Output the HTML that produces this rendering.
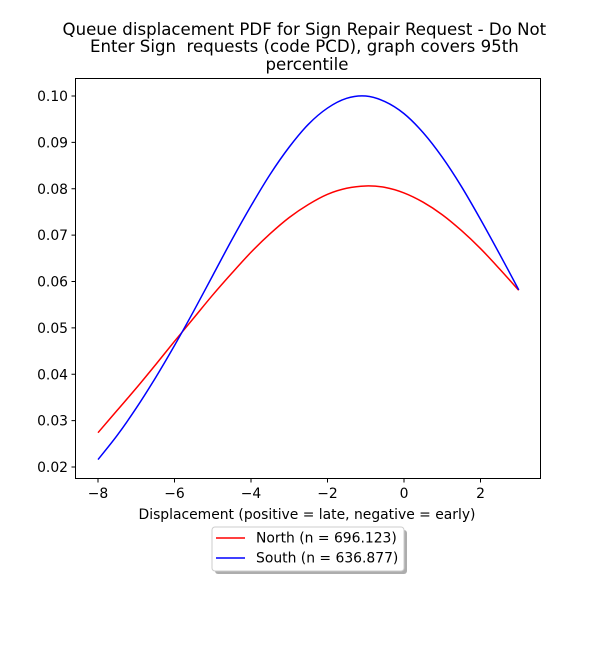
<!DOCTYPE html>
<html><head><meta charset="utf-8"><style>
body{margin:0;background:#fff;}
svg{display:block;font-family:"DejaVu Sans","Liberation Sans",sans-serif;}
</style></head><body>
<svg id="chart" width="600" height="650" viewBox="0 0 600 650">
<text x="307" y="35" font-size="16.6" text-anchor="middle">
<tspan x="307" y="35">Queue displacement PDF for Sign Repair Request - Do Not</tspan>
<tspan x="307" y="52">Enter Sign&#160; requests (code PCD), graph covers 95th</tspan>
<tspan x="307" y="70">percentile</tspan></text>
<g id="axes"></g>
<rect x="75.5" y="78.5" width="465" height="400" fill="none" stroke="#000" stroke-width="1"/>
<text x="307" y="519" font-size="13.9" text-anchor="middle">Displacement (positive = late, negative = early)</text>
<g>
<rect x="215" y="530" width="192" height="44" rx="3" fill="#999" opacity="0.8"/>
<rect x="212" y="527" width="192" height="44" rx="3" fill="#fff" stroke="#ccc"/>
<line x1="216" y1="538" x2="245" y2="538" stroke="red" stroke-width="1.5"/>
<text x="256" y="542.5" font-size="13.9">North (n = 696.123)</text>
<line x1="216" y1="558" x2="245" y2="558" stroke="blue" stroke-width="1.5"/>
<text x="256" y="562.5" font-size="13.9">South (n = 636.877)</text>
</g>
</svg>
<script>
const xValues=[-8,-7.5,-7,-6.5,-6,-5.5,-5,-4.5,-4,-3.5,-3,-2.5,-2,-1.5,-1,-0.5,0,0.5,1,1.5,2,2.5,3];
const northValues=[0.0274,0.0322,0.0370,0.0420,0.0471,0.0521,0.0571,0.0618,0.0663,0.0703,0.0738,0.0766,0.0788,0.0801,0.0806,0.0803,0.0791,0.0771,0.0744,0.0710,0.0671,0.0627,0.0581];
const southValues=[0.0216,0.0268,0.0327,0.0392,0.0462,0.0536,0.0613,0.0690,0.0763,0.0831,0.0890,0.0939,0.0974,0.0995,0.1000,0.0988,0.0962,0.0921,0.0868,0.0805,0.0734,0.0659,0.0582];
const xTicks=[-8,-6,-4,-2,0,2];
const yTicks=[0.02,0.03,0.04,0.05,0.06,0.07,0.08,0.09,0.10];
const yTickLabels=["0.02","0.03","0.04","0.05","0.06","0.07","0.08","0.09","0.10"];

const ns="http://www.w3.org/2000/svg";
const sx=v=>404+38.25*v;
const sy=v=>467-(v-0.02)*4637.5;
const g=document.getElementById('axes');
function mk(t,a){const e=document.createElementNS(ns,t);for(const k in a)e.setAttribute(k,a[k]);return e;}
xTicks.forEach(t=>{
  const l=mk('line',{x1:sx(t),x2:sx(t),y1:478.5,y2:482.5,stroke:'#000'});
  
  
  g.appendChild(l);
  const tx=mk('text',{x:sx(t),y:498,'font-size':13.9,'text-anchor':'middle'});
  tx.textContent=t<0?'\u2212'+(-t):String(t);
  
  
  g.appendChild(tx);
});
yTicks.forEach((t,i)=>{
  const l=mk('line',{x1:71.5,x2:75.5,y1:sy(t),y2:sy(t),stroke:'#000'});
  
  
  g.appendChild(l);
  const tx=mk('text',{x:68,y:sy(t)+5,'font-size':13.9,'text-anchor':'end'});
  tx.textContent=yTickLabels[i];
  
  
  g.appendChild(tx);
});
function line(vals,color,name){
  const P=vals.map((v,i)=>[sx(xValues[i]),sy(v)]);
  let d='M'+P[0][0].toFixed(2)+','+P[0][1].toFixed(2);
  for(let i=0;i<P.length-1;i++){
    const p0=P[Math.max(i-1,0)],p1=P[i],p2=P[i+1],p3=P[Math.min(i+2,P.length-1)];
    const c1=[p1[0]+(p2[0]-p0[0])/6,p1[1]+(p2[1]-p0[1])/6];
    const c2=[p2[0]-(p3[0]-p1[0])/6,p2[1]-(p3[1]-p1[1])/6];
    d+=' C'+c1.map(n=>n.toFixed(2))+' '+c2.map(n=>n.toFixed(2))+' '+p2.map(n=>n.toFixed(2));
  }
  const p=mk('path',{d:d,fill:'none',stroke:color,'stroke-width':1.5,'stroke-linejoin':'round'});
  
  
  g.appendChild(p);
}
line(northValues,'red','north-line');
line(southValues,'blue','south-line');
</script>
</body></html>
